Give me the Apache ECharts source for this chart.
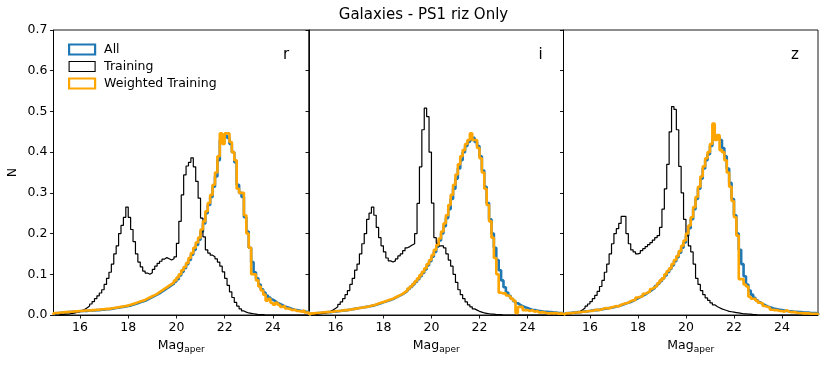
<!DOCTYPE html>
<html>
<head>
<meta charset="utf-8">
<script src="https://cdn.jsdelivr.net/npm/echarts@6/dist/echarts.min.js"></script>
<style>
  html, body { margin: 0; padding: 0; background: #fff; }
  #chart { width: 831px; height: 365px; }
</style>
</head>
<body>
<div id="chart"></div>
<script>
// histogram bins: 0.1 mag wide, first edge at 14.9
const binStart = 14.9;
const binWidth = 0.1;
const tickValues = [16, 18, 20, 22, 24];
const bands = ['r', 'i', 'z'];

// r band
const rAll = [
  0.004, 0.005, 0.005, 0.006, 0.006, 0.007, 0.007, 0.008, 0.008, 0.009,
  0.009, 0.01, 0.01, 0.01, 0.011, 0.011, 0.011, 0.012, 0.012, 0.013,
  0.013, 0.014, 0.014, 0.015, 0.016, 0.017, 0.018, 0.019, 0.02, 0.021,
  0.022, 0.023, 0.025, 0.027, 0.029, 0.031, 0.033, 0.035, 0.038, 0.041,
  0.044, 0.047, 0.05, 0.053, 0.057, 0.061, 0.065, 0.069, 0.073, 0.077,
  0.082, 0.088, 0.097, 0.106, 0.115, 0.125, 0.135, 0.148, 0.16, 0.172,
  0.185, 0.205, 0.225, 0.25, 0.27, 0.29, 0.315, 0.34, 0.38, 0.43,
  0.44, 0.44, 0.435, 0.42, 0.4, 0.375, 0.32, 0.3, 0.29, 0.24,
  0.205, 0.165, 0.13, 0.105, 0.09, 0.075, 0.063, 0.055, 0.048, 0.043,
  0.038, 0.034, 0.03, 0.027, 0.024, 0.021, 0.019, 0.017, 0.015, 0.013,
  0.012, 0.011, 0.01, 0.009, 0.008, 0.007
];
const rTraining = [
  0, 0, 0.001, 0.001, 0.002, 0.002, 0.003, 0.004, 0.005, 0.007,
  0.009, 0.011, 0.014, 0.018, 0.022, 0.027, 0.033, 0.04, 0.047, 0.054,
  0.062, 0.075, 0.09, 0.105, 0.125, 0.15, 0.17, 0.2, 0.22, 0.24,
  0.265, 0.24, 0.21, 0.18, 0.15, 0.13, 0.118, 0.108, 0.103, 0.1,
  0.104, 0.112, 0.12, 0.127, 0.132, 0.137, 0.141, 0.138, 0.135, 0.138,
  0.143, 0.176, 0.23, 0.295, 0.344, 0.366, 0.375, 0.386, 0.364, 0.328,
  0.287, 0.238, 0.192, 0.16, 0.152, 0.147, 0.143, 0.138, 0.13, 0.12,
  0.106, 0.09, 0.073, 0.057, 0.043, 0.031, 0.022, 0.015, 0.01, 0.007,
  0.005, 0.004, 0.003, 0.002, 0.001, 0.001, 0.001, 0, 0, 0,
  0, 0, 0, 0, 0, 0, 0, 0, 0, 0,
  0, 0, 0, 0, 0, 0
];
const rWeighted = [
  0.005, 0.005, 0.006, 0.006, 0.007, 0.007, 0.008, 0.008, 0.009, 0.009,
  0.01, 0.01, 0.011, 0.011, 0.011, 0.012, 0.012, 0.013, 0.013, 0.014,
  0.014, 0.015, 0.015, 0.016, 0.017, 0.018, 0.019, 0.02, 0.021, 0.022,
  0.023, 0.025, 0.027, 0.029, 0.031, 0.033, 0.035, 0.037, 0.04, 0.043,
  0.046, 0.049, 0.052, 0.056, 0.06, 0.064, 0.068, 0.072, 0.076, 0.08,
  0.085, 0.092, 0.1, 0.11, 0.118, 0.128, 0.14, 0.152, 0.165, 0.178,
  0.19, 0.21, 0.23, 0.255, 0.275, 0.295, 0.32, 0.35, 0.39, 0.446,
  0.42, 0.446, 0.446, 0.425, 0.4, 0.38, 0.31, 0.3, 0.3, 0.245,
  0.2, 0.165, 0.1, 0.1, 0.085, 0.07, 0.06, 0.05, 0.035, 0.04,
  0.03, 0.025, 0.03, 0.025, 0.02, 0.022, 0.016, 0.015, 0.012, 0.013,
  0.01, 0.01, 0.008, 0.012, 0.006, 0.006
];

// i band
const iAll = [
  0.003, 0.004, 0.004, 0.005, 0.005, 0.006, 0.006, 0.007, 0.007, 0.008,
  0.009, 0.009, 0.01, 0.011, 0.011, 0.012, 0.013, 0.014, 0.015, 0.016,
  0.017, 0.018, 0.019, 0.02, 0.021, 0.022, 0.023, 0.025, 0.027, 0.029,
  0.031, 0.033, 0.035, 0.037, 0.039, 0.042, 0.045, 0.048, 0.051, 0.055,
  0.059, 0.064, 0.069, 0.075, 0.081, 0.088, 0.095, 0.103, 0.112, 0.122,
  0.132, 0.143, 0.155, 0.168, 0.183, 0.2, 0.218, 0.238, 0.26, 0.285,
  0.31, 0.335, 0.36, 0.38, 0.4, 0.415, 0.425, 0.43, 0.435, 0.425,
  0.415, 0.39, 0.355, 0.315, 0.275, 0.235, 0.2, 0.165, 0.135, 0.11,
  0.085, 0.068, 0.055, 0.047, 0.04, 0.034, 0.029, 0.025, 0.022, 0.019,
  0.017, 0.015, 0.013, 0.012, 0.011, 0.01, 0.009, 0.008, 0.008, 0.007,
  0.007, 0.006, 0.006, 0.005, 0.005, 0.005
];
const iTraining = [
  0, 0.001, 0.001, 0.002, 0.003, 0.004, 0.005, 0.007, 0.009, 0.012,
  0.016, 0.02, 0.026, 0.032, 0.04, 0.05, 0.06, 0.075, 0.09, 0.11,
  0.125, 0.15, 0.175, 0.2, 0.235, 0.25, 0.265, 0.245, 0.215, 0.19,
  0.17, 0.155, 0.14, 0.133, 0.13, 0.133, 0.138, 0.145, 0.15, 0.158,
  0.165, 0.168, 0.172, 0.175, 0.2, 0.274, 0.364, 0.455, 0.508, 0.487,
  0.4, 0.275, 0.19, 0.176, 0.17, 0.17, 0.165, 0.15, 0.135, 0.12,
  0.1, 0.08, 0.062, 0.05, 0.04, 0.032, 0.025, 0.02, 0.015, 0.012,
  0.009, 0.007, 0.005, 0.004, 0.003, 0.002, 0.002, 0.001, 0.001, 0.001,
  0, 0, 0, 0, 0, 0, 0, 0, 0, 0,
  0, 0, 0, 0, 0, 0, 0, 0, 0, 0,
  0, 0, 0, 0, 0, 0
];
const iWeighted = [
  0.004, 0.004, 0.005, 0.005, 0.006, 0.006, 0.007, 0.007, 0.008, 0.008,
  0.009, 0.01, 0.01, 0.011, 0.012, 0.012, 0.013, 0.014, 0.015, 0.016,
  0.017, 0.018, 0.019, 0.02, 0.021, 0.023, 0.024, 0.026, 0.028, 0.03,
  0.032, 0.034, 0.036, 0.038, 0.04, 0.043, 0.046, 0.049, 0.052, 0.056,
  0.06, 0.065, 0.07, 0.076, 0.083, 0.09, 0.098, 0.106, 0.115, 0.125,
  0.135, 0.147, 0.16, 0.172, 0.188, 0.205, 0.225, 0.245, 0.27, 0.295,
  0.32, 0.345, 0.37, 0.39, 0.405, 0.42, 0.43, 0.446, 0.43, 0.43,
  0.41, 0.385, 0.35, 0.31, 0.27, 0.23, 0.19, 0.14, 0.1, 0.055,
  0.053, 0.053, 0.048, 0.045, 0.04, 0.035, 0.005, 0.02, 0.02, 0.012,
  0.012, 0.01, 0.012, 0.008, 0.01, 0.006, 0.007, 0.006, 0.005, 0.004,
  0.005, 0.004, 0.005, 0.003, 0.004, 0.003
];

// z band
const zAll = [
  0.004, 0.005, 0.005, 0.006, 0.006, 0.007, 0.007, 0.008, 0.009, 0.009,
  0.01, 0.011, 0.012, 0.012, 0.013, 0.014, 0.015, 0.016, 0.017, 0.018,
  0.019, 0.021, 0.022, 0.024, 0.026, 0.028, 0.03, 0.032, 0.035, 0.038,
  0.041, 0.044, 0.047, 0.05, 0.054, 0.058, 0.062, 0.066, 0.071, 0.077,
  0.083, 0.09, 0.097, 0.105, 0.113, 0.122, 0.132, 0.142, 0.153, 0.165,
  0.178, 0.195, 0.213, 0.235, 0.26, 0.285, 0.31, 0.335, 0.36, 0.38,
  0.395, 0.415, 0.435, 0.44, 0.438, 0.43, 0.41, 0.39, 0.36, 0.325,
  0.285, 0.245, 0.2, 0.16, 0.125, 0.095, 0.075, 0.06, 0.05, 0.042,
  0.036, 0.031, 0.027, 0.024, 0.021, 0.019, 0.017, 0.015, 0.014, 0.013,
  0.012, 0.011, 0.01, 0.009, 0.009, 0.008, 0.008, 0.007, 0.007, 0.006,
  0.006, 0.006, 0.005, 0.005, 0.005, 0.004
];
const zTraining = [
  0.001, 0.002, 0.003, 0.004, 0.005, 0.007, 0.009, 0.013, 0.017, 0.022,
  0.027, 0.033, 0.04, 0.048, 0.058, 0.07, 0.085, 0.105, 0.125, 0.15,
  0.175, 0.2, 0.212, 0.225, 0.242, 0.242, 0.2, 0.175, 0.16, 0.155,
  0.15, 0.152, 0.158, 0.163, 0.168, 0.173, 0.178, 0.184, 0.19, 0.195,
  0.215, 0.26, 0.31, 0.37, 0.45, 0.512, 0.505, 0.455, 0.365, 0.3,
  0.235, 0.195, 0.17, 0.155, 0.125, 0.09, 0.075, 0.06, 0.05, 0.042,
  0.036, 0.03, 0.025, 0.021, 0.018, 0.015, 0.013, 0.011, 0.009, 0.008,
  0.007, 0.006, 0.005, 0.004, 0.003, 0.003, 0.002, 0.002, 0.001, 0.001,
  0, 0, 0, 0, 0, 0, 0, 0, 0, 0,
  0, 0, 0, 0, 0, 0, 0, 0, 0, 0,
  0, 0, 0, 0, 0, 0
];
const zWeighted = [
  0.004, 0.004, 0.005, 0.005, 0.006, 0.006, 0.007, 0.008, 0.008, 0.009,
  0.01, 0.01, 0.012, 0.013, 0.012, 0.014, 0.016, 0.017, 0.016, 0.019,
  0.02, 0.022, 0.021, 0.025, 0.027, 0.029, 0.03, 0.034, 0.036, 0.037,
  0.043, 0.045, 0.046, 0.052, 0.055, 0.057, 0.064, 0.068, 0.072, 0.078,
  0.085, 0.09, 0.1, 0.108, 0.115, 0.125, 0.135, 0.145, 0.157, 0.17,
  0.183, 0.2, 0.22, 0.24, 0.265, 0.29, 0.315, 0.34, 0.365, 0.385,
  0.4, 0.42, 0.47, 0.43, 0.442, 0.405, 0.4, 0.38, 0.35, 0.315,
  0.28, 0.24, 0.195, 0.088, 0.088, 0.075, 0.07, 0.045, 0.04, 0.04,
  0.035, 0.03, 0.028, 0.022, 0.02, 0.018, 0.013, 0.012, 0.012, 0.01,
  0.01, 0.008, 0.012, 0.008, 0.007, 0.007, 0.006, 0.005, 0.005, 0.004,
  0.004, 0.004, 0.003, 0.003, 0.003, 0.003
];

const panels = [
  { all: rAll, training: rTraining, weighted: rWeighted },
  { all: iAll, training: iTraining, weighted: iWeighted },
  { all: zAll, training: zTraining, weighted: zWeighted }
];

const FONT = 'DejaVu Sans';
const gridLeft = [53.5, 309, 563.5];
const gridWidth = [255.5, 254.5, 254.5];

// turn bin heights into step outline points (left edge of every bin, closed at the end)
function stepPoints(vals) {
  const pts = [[binStart, 0]];
  vals.forEach((v, i) => pts.push([binStart + i * binWidth, v]));
  const end = binStart + vals.length * binWidth;
  pts.push([end, vals[vals.length - 1]]);
  pts.push([end, 0]);
  return pts;
}

const grids = [], xAxes = [], yAxes = [], series = [], graphics = [];

panels.forEach((p, k) => {
  grids.push({
    left: gridLeft[k], width: gridWidth[k], top: 30, height: 285,
    show: true, borderColor: '#000', borderWidth: 0.9, backgroundColor: 'transparent'
  });
  xAxes.push({
    gridIndex: k, type: 'value', min: binStart, max: 25.5,
    name: '{a|Mag}{b|aper}', nameLocation: 'middle', nameGap: 20,
    nameTextStyle: {
      rich: {
        a: { fontFamily: FONT, fontSize: 12.5, color: '#000', lineHeight: 18, verticalAlign: 'top' },
        b: { fontFamily: FONT, fontSize: 9, color: '#000', lineHeight: 18, verticalAlign: 'top', padding: [6, 0, 0, 0] }
      }
    },
    axisLine: { show: true, onZero: false, lineStyle: { color: '#000', width: 0.9 } },
    axisTick: { show: true, length: 3.5, inside: false, customValues: tickValues, lineStyle: { color: '#000', width: 0.9 } },
    axisLabel: { show: true, margin: 6, customValues: tickValues, fontFamily: FONT, fontSize: 12.5, color: '#000' },
    splitLine: { show: false }
  });
  yAxes.push({
    gridIndex: k, type: 'value', min: 0, max: 0.7, interval: 0.1,
    name: k === 0 ? 'N' : '', nameLocation: 'middle', nameGap: 34, nameRotate: 90,
    nameTextStyle: { fontFamily: FONT, fontSize: 12.5, color: '#000' },
    axisLine: { show: true, lineStyle: { color: '#000', width: 0.9 } },
    axisTick: { show: true, length: 3.5, inside: false, lineStyle: { color: '#000', width: 0.9 } },
    axisLabel: {
      show: k === 0, margin: 6, fontFamily: FONT, fontSize: 12.5, color: '#000',
      formatter: v => v.toFixed(1)
    },
    splitLine: { show: false }
  });
  series.push(
    {
      name: 'All', type: 'line', step: 'end', xAxisIndex: k, yAxisIndex: k,
      data: stepPoints(p.all), showSymbol: false, symbol: 'none',
      lineStyle: { color: '#1f77b4', width: 2.6 }, itemStyle: { color: '#1f77b4' }, z: 2
    },
    {
      name: 'Training', type: 'line', step: 'end', xAxisIndex: k, yAxisIndex: k,
      data: stepPoints(p.training), showSymbol: false, symbol: 'none',
      lineStyle: { color: '#000', width: 1.2 }, itemStyle: { color: '#000' }, z: 3
    },
    {
      name: 'Weighted Training', type: 'line', step: 'end', xAxisIndex: k, yAxisIndex: k,
      data: stepPoints(p.weighted), showSymbol: false, symbol: 'none',
      lineStyle: { color: '#ffa500', width: 2.6 }, itemStyle: { color: '#ffa500' }, z: 4
    }
  );
  graphics.push({
    type: 'text', x: gridLeft[k] + gridWidth[k] - 23, y: 55,
    style: { text: bands[k], font: '15px "DejaVu Sans"', fill: '#000',
      align: 'center', verticalAlign: 'middle', textAlign: 'center', textVerticalAlign: 'middle' }
  });
});

graphics.push({
  type: 'text', x: 423.5, y: 15,
  style: { text: 'Galaxies - PS1 riz Only', font: '15px "DejaVu Sans"', fill: '#000',
    align: 'center', verticalAlign: 'middle', textAlign: 'center', textVerticalAlign: 'middle' }
});

const chart = echarts.init(document.getElementById('chart'), null, { renderer: 'canvas' });
chart.setOption({
  animation: false,
  backgroundColor: '#fff',
  grid: grids,
  xAxis: xAxes,
  yAxis: yAxes,
  legend: {
    orient: 'vertical', left: 63, top: 38,
    itemWidth: 26, itemHeight: 10, itemGap: 4,
    textStyle: { fontFamily: FONT, fontSize: 12.5, color: '#000', padding: [0, 0, 0, 4] },
    selectedMode: false,
    data: [
      { name: 'All', icon: 'rect', itemStyle: { color: 'transparent', borderColor: '#1f77b4', borderWidth: 2.2 } },
      { name: 'Training', icon: 'rect', itemStyle: { color: 'transparent', borderColor: '#000', borderWidth: 1.1 } },
      { name: 'Weighted Training', icon: 'rect', itemStyle: { color: 'transparent', borderColor: '#ffa500', borderWidth: 2.2 } }
    ]
  },
  graphic: graphics,
  series: series
});
</script>
</body>
</html>
